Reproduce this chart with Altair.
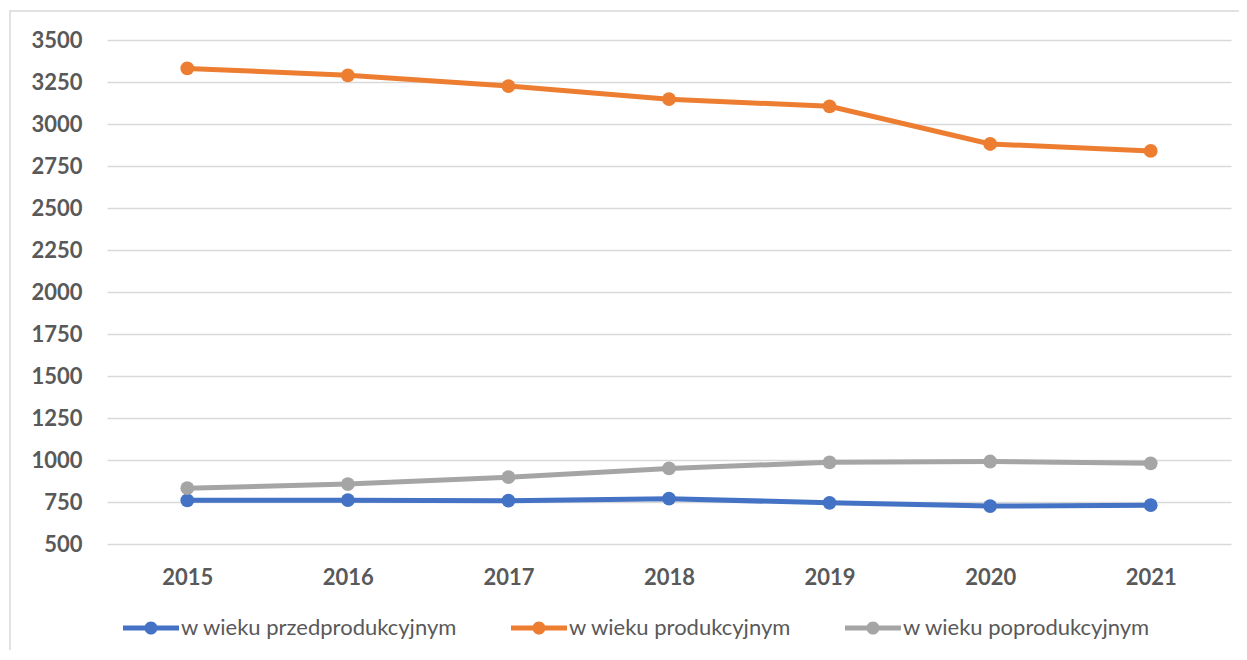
import altair as alt
import pandas as pd

years = ["2015", "2016", "2017", "2018", "2019", "2020", "2021"]
przedprodukcyjny = [760, 761, 758, 770, 745, 726, 731]
produkcyjny = [3331, 3290, 3226, 3148, 3105, 2881, 2840]
poprodukcyjny = [832, 857, 898, 950, 986, 991, 980]

series_names = ["w wieku przedprodukcyjnym", "w wieku produkcyjnym", "w wieku poprodukcyjnym"]
series_colors = ["#4472C4", "#ED7D31", "#A5A5A5"]
series_values = [przedprodukcyjny, produkcyjny, poprodukcyjny]

rows = []
for name, vals in zip(series_names, series_values):
    for y, v in zip(years, vals):
        rows.append({"rok": y, "seria": name, "wartosc": v})
df = pd.DataFrame(rows)

LEG_PATH = ("M-4,-0.36 L4,-0.36 L4,0.36 L-4,0.36 Z "
            "M0.93,0 A0.93,0.93 0 1,1 -0.93,0 A0.93,0.93 0 1,1 0.93,0 Z")

legend = alt.Legend(
    title=None, orient="none", direction="horizontal",
    legendX=33, legendY=577,
    symbolType=LEG_PATH, symbolSize=196, symbolStrokeWidth=0,
    labelFont="Lato", labelFontSize=22, labelColor="#595959", labelLimit=0,
    labelOffset=19, columnPadding=53, padding=0,
)

color = alt.Color(
    "seria:N",
    scale=alt.Scale(domain=series_names, range=series_colors),
    sort=series_names,
    legend=legend,
)

x = alt.X(
    "rok:O",
    scale=alt.Scale(type="point", padding=0.5),
    axis=alt.Axis(title=None, labelAngle=0, domain=False, ticks=False, grid=False,
                  labelFont="Lato", labelFontSize=22, labelFontWeight="bold",
                  labelColor="#595959", labelPadding=23),
)
y = alt.Y(
    "wartosc:Q",
    scale=alt.Scale(domain=[500, 3500], nice=False, zero=False),
    axis=alt.Axis(title=None, values=list(range(500, 3501, 250)), format="d",
                  domain=False, ticks=False,
                  grid=True, gridColor="#d9d9d9", gridWidth=1.5,
                  labelFont="Lato", labelFontSize=22, labelFontWeight="bold",
                  labelColor="#595959", labelPadding=25),
)

frame = alt.Chart(pd.DataFrame({"a": [0]})).mark_rect(
    fill=None, stroke="#d9d9d9", strokeWidth=1.5
).encode(
    x=alt.value(-97), x2=alt.value(1300), y=alt.value(-29), y2=alt.value(800)
)

base = alt.Chart(df)
lines = base.mark_line(strokeWidth=5).encode(x=x, y=y, color=color, order=alt.Order("rok:O"))
points = base.mark_point(filled=True, size=190, opacity=1).encode(x=x, y=y, color=color)

chart = alt.layer(frame, lines, points).properties(
    width=1124, height=504,
    autosize=alt.AutoSizeParams(type="none"),
    padding={"left": 99, "top": 32, "right": 8, "bottom": 106},
    background="white",
).configure_view(stroke=None)

chart.save("out.html", embed_options={"renderer": "svg", "actions": False})
